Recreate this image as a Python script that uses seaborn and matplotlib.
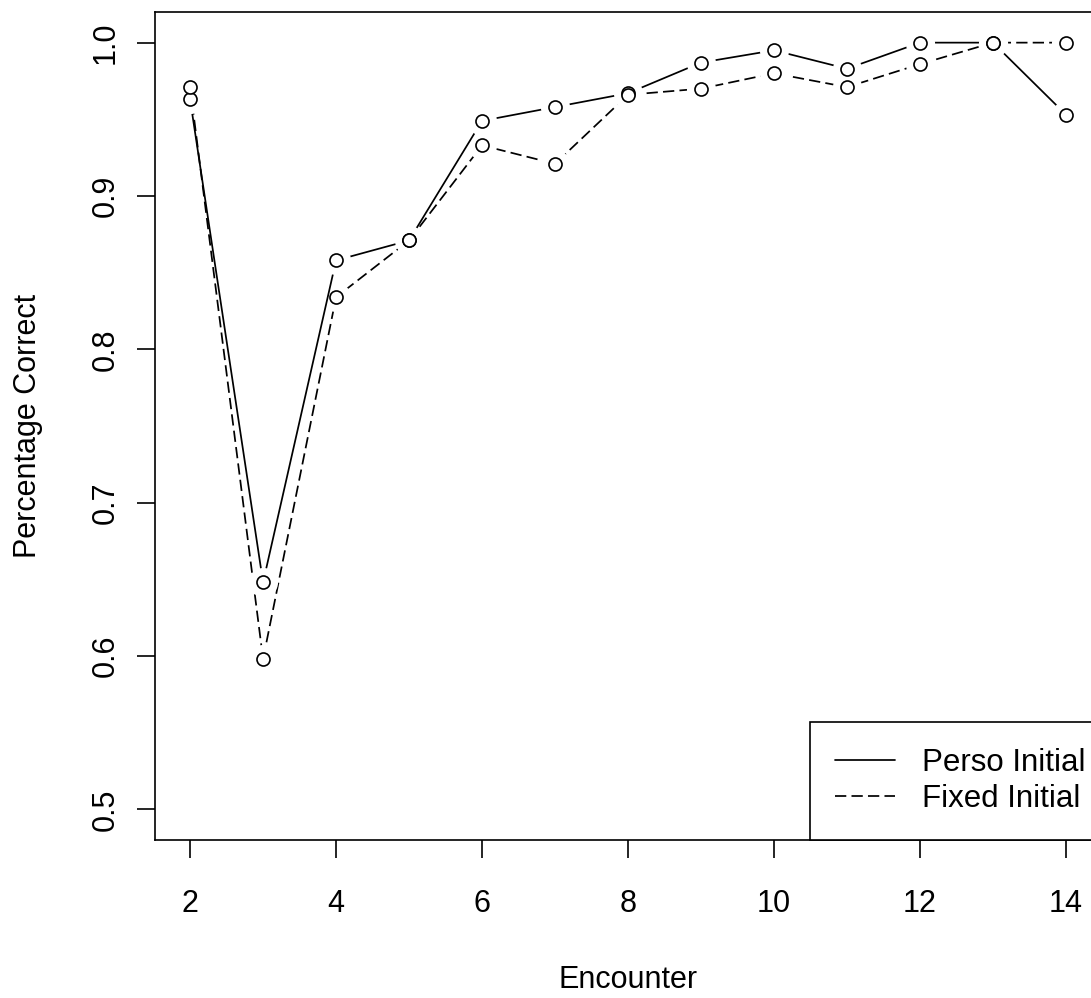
import matplotlib
matplotlib.use("Agg")
import matplotlib.pyplot as plt
from matplotlib.lines import Line2D
import seaborn as sns
import pandas as pd

# values
encounter = [2, 3, 4, 5, 6, 7, 8, 9, 10, 11, 12, 13, 14]
perso_initial = [0.963, 0.648, 0.858, 0.871, 0.949, 0.958, 0.967, 0.987, 0.995, 0.983, 1.000, 1.000, 0.953]
fixed_initial = [0.971, 0.598, 0.834, 0.871, 0.933, 0.921, 0.966, 0.970, 0.980, 0.971, 0.986, 1.000, 1.000]
series_names = ["Perso Initial", "Fixed Initial"]
x_ticks = [2, 4, 6, 8, 10, 12, 14]
y_ticks = [0.5, 0.6, 0.7, 0.8, 0.9, 1.0]

sns.set_style("ticks")
plt.rcParams["font.family"] = ["Liberation Sans", "DejaVu Sans"]
plt.rcParams["text.color"] = "black"

df = pd.DataFrame({
    "Encounter": encounter * 2,
    "Percentage Correct": perso_initial + fixed_initial,
    "Series": [series_names[0]] * len(encounter) + [series_names[1]] * len(encounter),
})
df_perso = df[df["Series"] == series_names[0]]
df_fixed = df[df["Series"] == series_names[1]]

dash = (6.5, 3.0)
lw = 1.25

fig = plt.figure(figsize=(10.91, 9.98), dpi=100)
# the R plot region runs past the right edge of the image
ax = fig.add_axes([0.1421, 0.1583, 0.8671, 0.8297])

# R type="b": lines with gaps around the points -> white halos under the circles
sns.lineplot(data=df_fixed, x="Encounter", y="Percentage Correct", color="black",
             linewidth=lw, ax=ax, zorder=1).lines[-1].set_dashes(dash)
sns.scatterplot(data=df_fixed, x="Encounter", y="Percentage Correct", color="white",
                s=440, linewidth=0, ax=ax, zorder=2)
sns.lineplot(data=df_perso, x="Encounter", y="Percentage Correct", color="black",
             linewidth=lw, ax=ax, zorder=3)
sns.scatterplot(data=df_perso, x="Encounter", y="Percentage Correct", color="white",
                s=440, linewidth=0, ax=ax, zorder=4)
sns.scatterplot(data=df, x="Encounter", y="Percentage Correct", facecolor="white",
                edgecolor="black", s=88, linewidth=1.2, ax=ax, zorder=5, legend=False)

ax.set_xlim(1.52, 14.48)
ax.set_ylim(0.48, 1.02)
ax.set_xticks(x_ticks)
ax.set_xticklabels([str(v) for v in x_ticks])
ax.set_yticks(y_ticks)
ax.set_yticklabels([f"{v:.1f}" for v in y_ticks])

ax.tick_params(axis="both", length=13, width=1.2, color="black", labelsize=22, labelcolor="black")
ax.tick_params(axis="x", pad=22)
ax.tick_params(axis="y", pad=12, labelrotation=90)
for lab in ax.get_yticklabels():
    lab.set_verticalalignment("center")

for sp in ax.spines.values():
    sp.set_visible(True)
    sp.set_color("black")
    sp.set_linewidth(1.2)

ax.set_xlabel("Encounter", fontsize=22, color="black")
ax.set_ylabel("Percentage Correct", fontsize=22, color="black")
ax.xaxis.set_label_coords(0.5, -0.151)
ax.yaxis.set_label_coords(-0.118, 0.5)

handles = [
    Line2D([], [], color="black", linewidth=lw),
    Line2D([], [], color="black", linewidth=lw, dashes=dash),
]
leg = ax.legend(handles, series_names, loc="lower right", bbox_to_anchor=(1.011, 0.0),
                borderaxespad=0, fontsize=22.5, frameon=True, fancybox=False,
                handlelength=1.9, handletextpad=0.88, labelspacing=0.22, borderpad=0.82)
leg.get_frame().set_edgecolor("black")
leg.get_frame().set_linewidth(1.2)
leg.get_frame().set_alpha(1)
for t in leg.get_texts():
    t.set_color("black")
leg.set_zorder(10)

fig.savefig("out.png", dpi=100)
